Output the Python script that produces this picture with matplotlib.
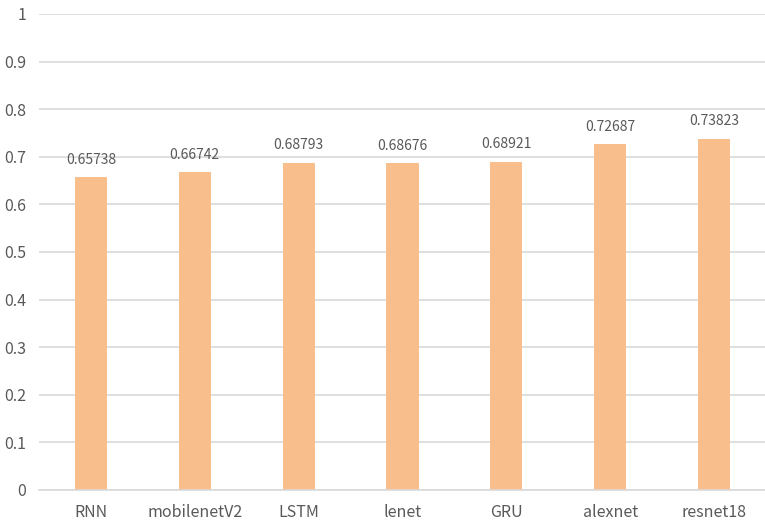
import matplotlib
matplotlib.use('Agg')
import matplotlib.pyplot as plt
import numpy as np

# Modelle und Genauigkeiten
models = ['RNN', 'mobilenetV2', 'LSTM', 'lenet', 'GRU', 'alexnet', 'resnet18']
accuracy = [0.65738, 0.66742, 0.68793, 0.68676, 0.68921, 0.72687, 0.73823]
y_ticks = [0, 0.1, 0.2, 0.3, 0.4, 0.5, 0.6, 0.7, 0.8, 0.9, 1]
y_tick_labels = ['0', '0.1', '0.2', '0.3', '0.4', '0.5', '0.6', '0.7', '0.8', '0.9', '1']

C_BAR = '#F8BF8D'
C_GRID = '#D9D9D9'
C_TEXT = '#595959'

plt.rcParams['font.family'] = ['Noto Sans CJK SC', 'DejaVu Sans']

fig = plt.figure(figsize=(7.65, 5.23), dpi=100)
ax = fig.add_axes([39 / 765, 1 - 490 / 523, 727 / 765, 476 / 523])

x = np.arange(len(models))
bars = ax.bar(x, accuracy, width=0.31, color=C_BAR, zorder=2)

for b, v in zip(bars, accuracy):
    ax.text(b.get_x() + b.get_width() / 2, v + 0.022, f'{v:.5f}',
            ha='center', va='bottom', fontsize=10, color=C_TEXT)

ax.set_xlim(-0.5, len(models) - 0.5)
ax.set_ylim(0, 1)
ax.set_yticks(y_ticks)
ax.set_yticklabels(y_tick_labels)
ax.set_xticks(x)
ax.set_xticklabels(models)
ax.tick_params(axis='both', length=0, labelsize=11.5, colors=C_TEXT)
ax.tick_params(axis='y', pad=9)
ax.tick_params(axis='x', pad=10)

ax.yaxis.grid(True, color=C_GRID, lw=1.2, zorder=0)
ax.set_axisbelow(True)
for s in ['top', 'right', 'left']:
    ax.spines[s].set_visible(False)
ax.spines['bottom'].set_color(C_GRID)
ax.spines['bottom'].set_linewidth(1.2)

fig.savefig('out.png', dpi=100, facecolor='white')
